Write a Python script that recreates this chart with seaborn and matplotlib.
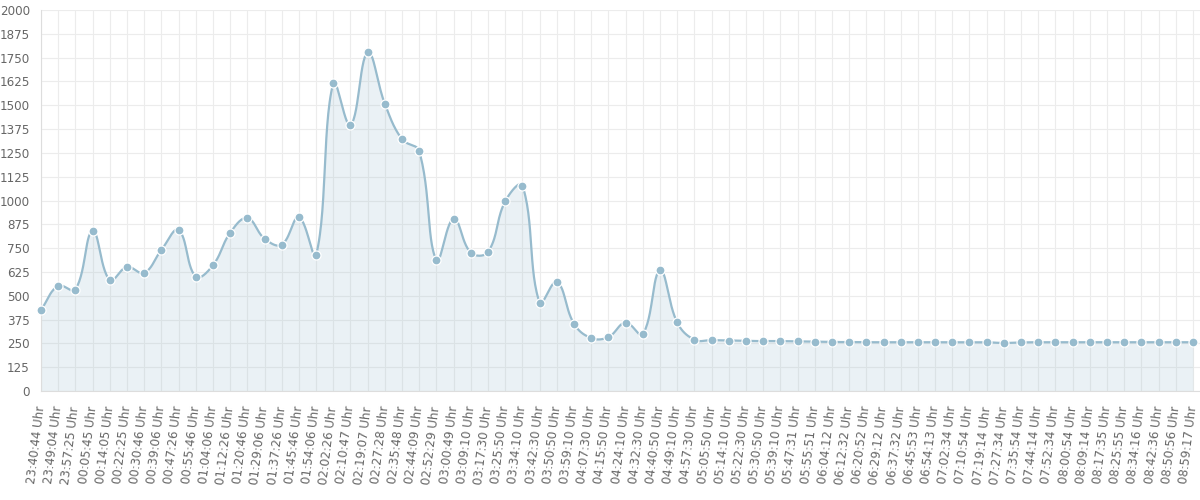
import numpy as np
import pandas as pd
import matplotlib
matplotlib.use("Agg")
import matplotlib.pyplot as plt
import seaborn as sns

labels = [
    "23:40:44 Uhr", "23:49:04 Uhr", "23:57:25 Uhr", "00:05:45 Uhr", "00:14:05 Uhr",
    "00:22:25 Uhr", "00:30:46 Uhr", "00:39:06 Uhr", "00:47:26 Uhr", "00:55:46 Uhr",
    "01:04:06 Uhr", "01:12:26 Uhr", "01:20:46 Uhr", "01:29:06 Uhr", "01:37:26 Uhr",
    "01:45:46 Uhr", "01:54:06 Uhr", "02:02:26 Uhr", "02:10:47 Uhr", "02:19:07 Uhr",
    "02:27:28 Uhr", "02:35:48 Uhr", "02:44:09 Uhr", "02:52:29 Uhr", "03:00:49 Uhr",
    "03:09:10 Uhr", "03:17:30 Uhr", "03:25:50 Uhr", "03:34:10 Uhr", "03:42:30 Uhr",
    "03:50:50 Uhr", "03:59:10 Uhr", "04:07:30 Uhr", "04:15:50 Uhr", "04:24:10 Uhr",
    "04:32:30 Uhr", "04:40:50 Uhr", "04:49:10 Uhr", "04:57:30 Uhr", "05:05:50 Uhr",
    "05:14:10 Uhr", "05:22:30 Uhr", "05:30:50 Uhr", "05:39:10 Uhr", "05:47:31 Uhr",
    "05:55:51 Uhr", "06:04:12 Uhr", "06:12:32 Uhr", "06:20:52 Uhr", "06:29:12 Uhr",
    "06:37:32 Uhr", "06:45:53 Uhr", "06:54:13 Uhr", "07:02:34 Uhr", "07:10:54 Uhr",
    "07:19:14 Uhr", "07:27:34 Uhr", "07:35:54 Uhr", "07:44:14 Uhr", "07:52:34 Uhr",
    "08:00:54 Uhr", "08:09:14 Uhr", "08:17:35 Uhr", "08:25:55 Uhr", "08:34:16 Uhr",
    "08:42:36 Uhr", "08:50:56 Uhr", "08:59:17 Uhr",
]

values = [
    425, 552, 532, 840, 582, 651, 620, 740, 845, 600,
    660, 830, 908, 800, 768, 912, 714, 1617, 1395, 1778,
    1507, 1321, 1258, 686, 905, 726, 730, 996, 1078, 464,
    573, 353, 278, 283, 359, 298, 633, 360, 269, 267,
    265, 263, 262, 262, 260, 259, 257, 257, 256, 256,
    256, 256, 256, 256, 256, 256, 252, 255, 256, 256,
    256, 256, 256, 256, 256, 256, 256, 256,
]

y_ticks = list(range(0, 2001, 125))

LINE = "#97bbcd"
FILL = (151/255, 187/255, 205/255, 0.2)
GRID = "#ececec"
TEXT = "#666666"

sns.set_style("white")
plt.rcParams["font.family"] = ["DejaVu Sans"]

df = pd.DataFrame({"idx": np.arange(len(values)), "value": values})

fig = plt.figure(figsize=(12, 5), dpi=100)
ax = fig.add_axes([41/1200, 109/500, (1200-41)/1200, 381/500])
n = len(values)
ax.set_xlim(0, (n - 1) + 7/17.2)
ax.set_ylim(0, 2000)

# smooth curve (Chart.js style cardinal spline, tension 0.4) computed in pixel space
pts = ax.transData.transform(np.column_stack([df["idx"], df["value"]]))
t = 0.4
cp_prev = np.zeros_like(pts)
cp_next = np.zeros_like(pts)
for i in range(n):
    prev = pts[i-1] if i > 0 else pts[i]
    nxt = pts[i+1] if i < n-1 else pts[i]
    cur = pts[i]
    d01 = np.hypot(*(cur - prev))
    d12 = np.hypot(*(nxt - cur))
    tot = d01 + d12
    fa = t * d01 / tot if tot else 0
    fb = t * d12 / tot if tot else 0
    cp_prev[i] = cur - fa * (nxt - prev)
    cp_next[i] = cur + fb * (nxt - prev)
curve = []
ss = np.linspace(0, 1, 30)
for i in range(n - 1):
    p0, p1, p2, p3 = pts[i], cp_next[i], cp_prev[i+1], pts[i+1]
    for s in (ss if i == 0 else ss[1:]):
        b = ((1-s)**3)*p0 + 3*((1-s)**2)*s*p1 + 3*(1-s)*s*s*p2 + s**3*p3
        curve.append(b)
curve = ax.transData.inverted().transform(np.array(curve))
curve[:, 1] = np.clip(curve[:, 1], 0, 2000)

ax.fill_between(curve[:, 0], 0, curve[:, 1], color=FILL, linewidth=0, zorder=1)
ax.plot(curve[:, 0], curve[:, 1], color=LINE, linewidth=1.6, zorder=2,
        solid_capstyle="round")
sns.scatterplot(data=df, x="idx", y="value", ax=ax, color=LINE, s=42,
                edgecolor="white", linewidth=0.9, zorder=3, clip_on=False)

ax.set_xticks(df["idx"])
ax.set_xticklabels(labels, rotation=83, ha="right", va="center",
                   rotation_mode="anchor", fontsize=8.6, color=TEXT)
ax.set_yticks(y_ticks)
ax.set_yticklabels([str(v) for v in y_ticks], fontsize=8.6, color=TEXT)
ax.tick_params(axis="both", length=5, width=0.8, color=GRID)
ax.tick_params(axis="y", pad=3)
ax.tick_params(axis="x", pad=6)
ax.grid(True, color=GRID, linewidth=0.8, zorder=0)
ax.set_axisbelow(True)
for side in ("top", "right"):
    ax.spines[side].set_visible(False)
for side in ("left", "bottom"):
    ax.spines[side].set_color("#dddddd")
    ax.spines[side].set_linewidth(0.8)
ax.set_xlabel("")
ax.set_ylabel("")

fig.savefig("out.png", dpi=100)
